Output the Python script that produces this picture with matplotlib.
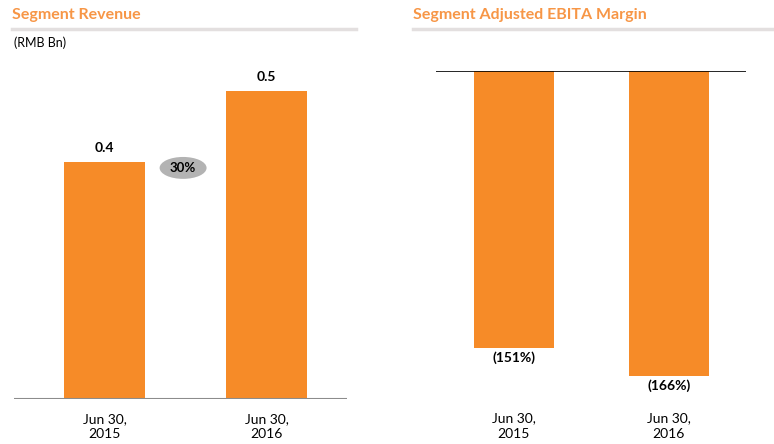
import matplotlib.pyplot as plt
from matplotlib.patches import Ellipse
from matplotlib.lines import Line2D

# --- DATA ---
periods = ["Jun 30,\n2015", "Jun 30,\n2016"]
revenue = [0.40, 0.52]            # RMB Bn
revenue_labels = ["0.4", "0.5"]
growth_label = "30%"
ebita_margin = [-151, -166]       # %
margin_labels = ["(151%)", "(166%)"]

ORANGE = "#F68B28"
TITLE_ORANGE = "#F79646"
W, H = 774, 444

plt.rcParams['font.family'] = ['Lato', 'DejaVu Sans']

fig = plt.figure(figsize=(W / 100, H / 100), dpi=100)


def px_axes(x0, y_top, x1, y_bot):
    # axes placed in pixel coords (origin top-left)
    return fig.add_axes([x0 / W, 1 - y_bot / H, (x1 - x0) / W, (y_bot - y_top) / H])


def header(x0, x1, y_text, y_line, text):
    fig.text(x0 / W, 1 - y_text / H, text, color=TITLE_ORANGE, fontsize=11.5,
             fontweight='bold', va='center', ha='left')
    fig.add_artist(Line2D([x0 / W, x1 / W], [1 - y_line / H] * 2,
                          color="#e3dfdf", lw=2.5, transform=fig.transFigure))


def period_labels(ax):
    for xi, lab in enumerate(periods):
        ax.text(xi, -0.04, lab, transform=ax.get_xaxis_transform(), ha='center',
                va='top', fontsize=10, linespacing=1.35)


x = [0, 1]

# --- Segment Revenue ---
header(12, 356, 15, 29, "Segment Revenue")
fig.text(14 / W, 1 - 43 / H, "(RMB Bn)", fontsize=9, va='center', ha='left')

ax1 = px_axes(14, 50, 347, 399)
ax1.bar(x, revenue, width=0.5, color=ORANGE)
ax1.set_xlim(-0.559, 1.497)
ax1.set_ylim(0, 0.589)
for xi, v, lab in zip(x, revenue, revenue_labels):
    ax1.annotate(lab, (xi, v), xytext=(0, 14), textcoords='offset pixels',
                 ha='center', va='center', fontsize=10, fontweight='bold')
ax1.add_patch(Ellipse((0.485, 0.39), 0.29, 0.037, color="#b3b3b3", lw=0))
ax1.text(0.485, 0.39, growth_label, ha='center', va='center',
         fontsize=9.5, fontweight='bold')
ax1.axhline(0, color="#8c8c8c", lw=1.5)
ax1.axis('off')
period_labels(ax1)

# --- Segment Adjusted EBITA Margin ---
header(413, 774, 15, 29, "Segment Adjusted EBITA Margin")

ax2 = px_axes(436, 71, 746, 399)
ax2.bar(x, ebita_margin, width=0.516, color=ORANGE)
ax2.set_xlim(-0.503, 1.497)
ax2.set_ylim(-178.8, 0)
for xi, v, lab in zip(x, ebita_margin, margin_labels):
    ax2.annotate(lab, (xi, v), xytext=(0, -10), textcoords='offset pixels',
                 ha='center', va='center', fontsize=10, fontweight='bold')
ax2.axhline(0, color="black", lw=1.2)
ax2.axis('off')
period_labels(ax2)

fig.savefig("out.png", dpi=100, facecolor='white')
